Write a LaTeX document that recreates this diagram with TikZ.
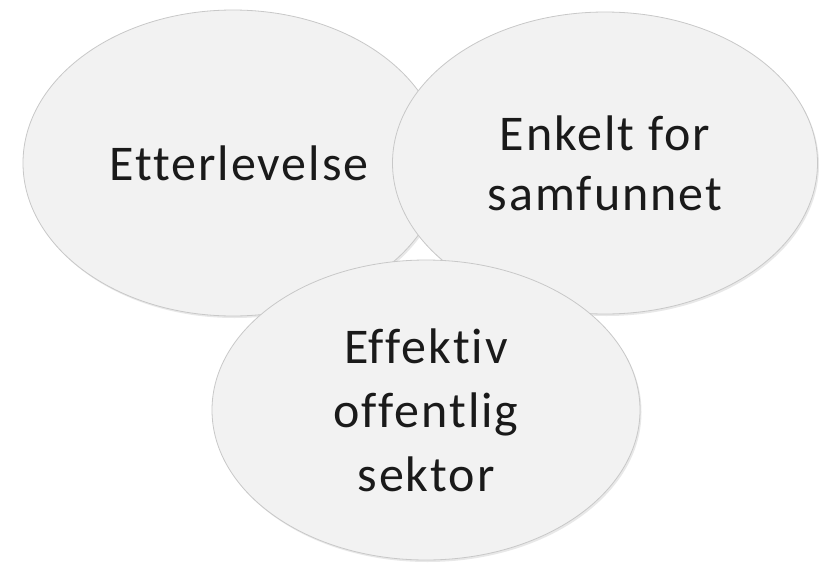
\documentclass[tikz,border=0pt]{standalone}
\usepackage{fontspec}
\setmainfont[Ligatures=CommonOff,LetterSpace=4]{Carlito}
\usetikzlibrary{shapes.geometric,shadows}
\definecolor{bubblefill}{HTML}{F2F2F2}
\definecolor{bubbleedge}{HTML}{C8C8C8}
\definecolor{txt}{HTML}{1A1A1A}
\tikzset{
  bubble/.style={ellipse, fill=bubblefill, draw=bubbleedge, line width=0.8pt,
    inner sep=0pt, align=center, text=txt,
    font=\fontsize{50}{60}\selectfont,
    drop shadow={opacity=0.18, shadow xshift=1.5pt, shadow yshift=-2pt}}
}
\begin{document}
\begin{tikzpicture}[x=1pt,y=-1pt]
\useasboundingbox (0,0) rectangle (828,563);
\fill[white] (0,0) rectangle (828,563);
\node[bubble, minimum width=420pt, minimum height=306pt] (ett) at (233,163) {\hspace*{12pt}Etterlevelse};
\node[bubble, minimum width=425pt, minimum height=302pt] (enk) at (605,163) {Enkelt for\\samfunnet};
\node[bubble, minimum width=428pt, minimum height=300pt, font=\fontsize{50}{64}\selectfont] (eff) at (426,410) {Effektiv\\offentlig\\sektor};
\end{tikzpicture}
\end{document}
